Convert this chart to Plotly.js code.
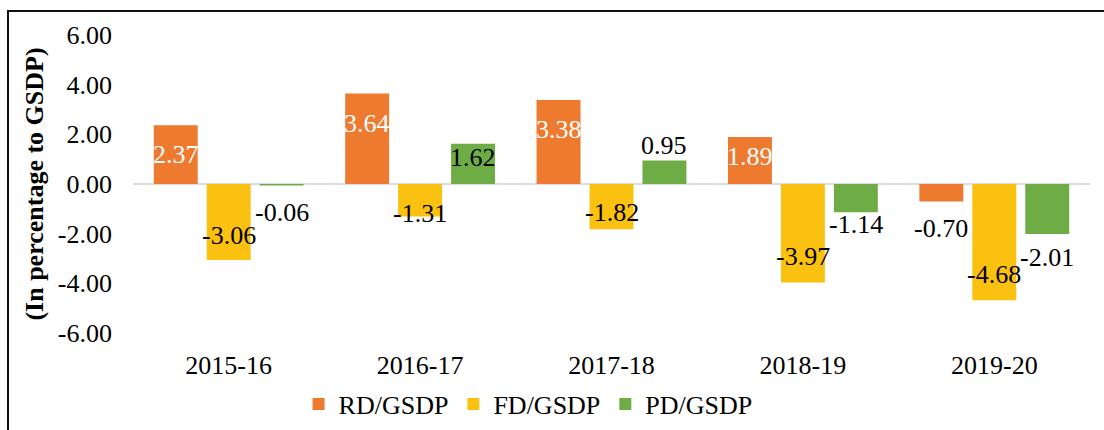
<!DOCTYPE html>
<html>
<head>
<meta charset="utf-8">
<script src="https://cdn.plot.ly/plotly-3.0.1.min.js"></script>
<style>
  html, body { margin: 0; padding: 0; background: #ffffff; overflow: hidden; }
  #wrap { position: relative; width: 1104px; height: 430px; }
  #chart { position: absolute; left: 0; top: 0; width: 1104px; height: 430px; }
  #frame { position: absolute; left: 7px; top: 10px; width: 1200px; height: 600px;
           border-left: 2px solid #111; border-top: 2px solid #111; pointer-events: none; }
</style>
</head>
<body>
<div id="wrap">
  <div id="chart"></div>
  <div id="frame"></div>
</div>
<script>
// ---- data ----
const categories = ['2015-16', '2016-17', '2017-18', '2018-19', '2019-20'];
const rdGsdp = [2.37, 3.64, 3.38, 1.89, -0.70];
const fdGsdp = [-3.06, -1.31, -1.82, -3.97, -4.68];
const pdGsdp = [-0.06, 1.62, 0.95, -1.14, -2.01];
const seriesNames = ['RD/GSDP', 'FD/GSDP', 'PD/GSDP'];
const yTickValues = [-6, -4, -2, 0, 2, 4, 6];

// ---- styles ----
const FONT = 'Liberation Serif, Times New Roman, Times, serif';
const colors = ['#EE7A30', '#FBC110', '#6EAC45'];
const labelColors = [
  ['#ffffff', '#ffffff', '#ffffff', '#ffffff', '#000000'],
  ['#000000', '#000000', '#000000', '#000000', '#000000'],
  ['#000000', '#000000', '#000000', '#000000', '#000000']
];
// label nudges in pixels relative to bar end (positive = up)
const labelNudge = [
  [-29, -30, -29, -19, -27],
  [24, 3, 17, 26, 26],
  [-27, -14, 15, -12, -24]
];
const bargap = 0.17, bargroupgap = 0.17;

const seriesValues = [rdGsdp, fdGsdp, pdGsdp];
const traces = seriesValues.map((vals, i) => ({
  type: 'bar',
  name: seriesNames[i],
  x: categories,
  y: vals,
  marker: { color: colors[i], line: { width: 0 } },
  hoverinfo: 'x+y+name'
}));

const annotations = [];
const slot = (1 - bargap) / 3;
seriesValues.forEach((vals, i) => {
  vals.forEach((v, j) => {
    annotations.push({
      xref: 'x', yref: 'y',
      x: j + (i - 1) * slot,
      y: v,
      text: v.toFixed(2),
      showarrow: false,
      xanchor: 'center', yanchor: 'middle',
      yshift: labelNudge[i][j],
      font: { family: FONT, size: 26, color: labelColors[i][j] }
    });
  });
});

const layout = {
  width: 1104, height: 430,
  margin: { l: 133, r: 14, t: 35, b: 97, pad: 0, autoexpand: false },
  paper_bgcolor: '#ffffff',
  plot_bgcolor: '#ffffff',
  font: { family: FONT, size: 26, color: '#000000' },
  barmode: 'group',
  bargap: bargap,
  bargroupgap: bargroupgap,
  showlegend: true,
  legend: {
    orientation: 'h',
    xref: 'paper', x: 0.173, xanchor: 'left',
    yref: 'container', y: 0.06, yanchor: 'middle',
    font: { family: FONT, size: 26, color: '#000000' },
    bgcolor: 'rgba(0,0,0,0)',
    itemwidth: 30,
    traceorder: 'normal'
  },
  xaxis: {
    type: 'category',
    showgrid: false,
    showline: false,
    zeroline: false,
    ticks: '',
    ticklabelstandoff: 14,
    tickfont: { family: FONT, size: 26, color: '#000000' },
    automargin: false
  },
  yaxis: {
    range: [-6, 6],
    tickvals: yTickValues,
    ticktext: yTickValues.map(v => v.toFixed(2)),
    showgrid: false,
    showline: false,
    zeroline: true,
    zerolinecolor: '#D9DEE5',
    zerolinewidth: 2,
    ticks: '',
    ticklabelstandoff: 20,
    tickfont: { family: FONT, size: 26, color: '#000000' },
    title: {
      text: '<b>(In percentage to GSDP)</b>',
      font: { family: FONT, size: 26, color: '#000000' },
      standoff: 6
    },
    automargin: false
  },
  annotations: annotations
};

Plotly.newPlot('chart', traces, layout, { displayModeBar: false, staticPlot: true });
</script>
</body>
</html>
